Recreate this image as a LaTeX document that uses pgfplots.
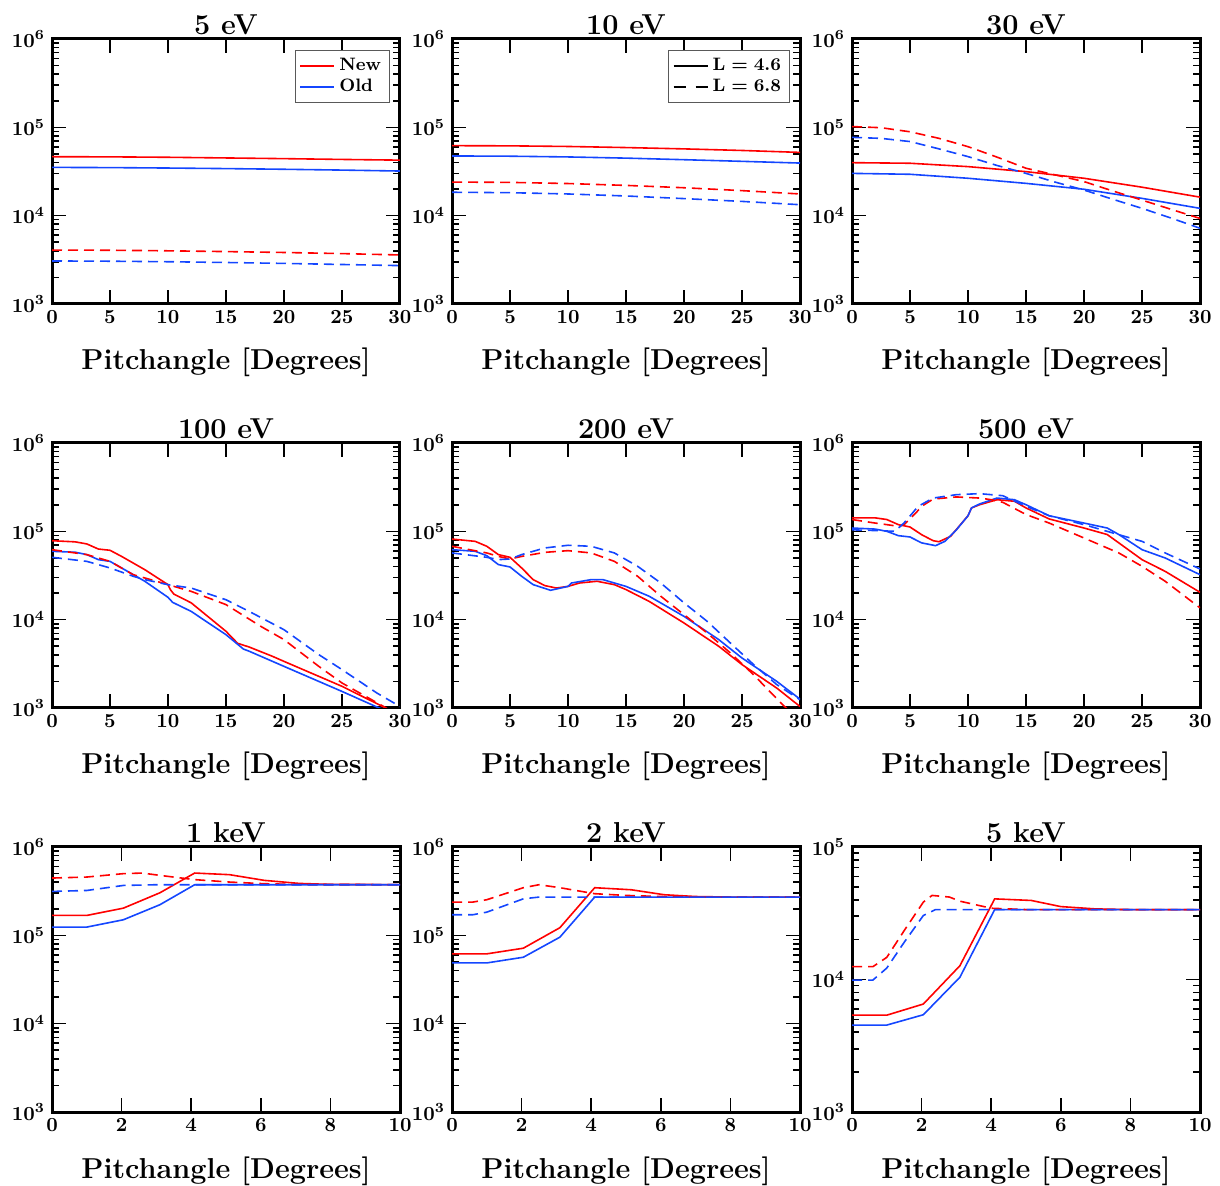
\documentclass[border=0pt]{standalone}
\usepackage{pgfplots}
\pgfplotsset{compat=1.18}
\definecolor{cR}{RGB}{255,0,0}
\definecolor{cB}{RGB}{20,70,255}
\pgfplotsset{
  every axis/.append style={
    scale only axis, width=174pt, height=132.5pt,
    ymode=log, ymin=1e3, ymax=1e6, ytick={1e3,1e4,1e5,1e6},
    xmin=0, xmax=30, xtick={0,5,...,30},
    tick align=inside, major tick length=7pt, minor tick length=3.5pt,
    tick style={black, line width=0.8pt},
    axis line style={line width=1.5pt},
    tick label style={font=\normalsize\boldmath},
    xlabel={Pitchangle [Degrees]},
    xlabel style={font=\Large\bfseries, at={(axis description cs:0.5,0)}, anchor=base, yshift=-33pt},
    title style={font=\Large\bfseries, at={(axis description cs:0.5,1)}, anchor=base, yshift=-4pt},
    legend style={at={(0.97,0.96)}, anchor=north east, draw=black!65, line width=0.5pt,
      font=\small\bfseries\boldmath, cells={anchor=west}, inner sep=2pt, row sep=-1pt},
  },
  sR/.style={cR, line width=0.8pt, forget plot},
  sB/.style={cB, line width=0.8pt, forget plot},
  dR/.style={cR, line width=0.8pt, dash pattern=on 5pt off 3pt, forget plot},
  dB/.style={cB, line width=0.8pt, dash pattern=on 5pt off 3pt, forget plot},
}
\begin{document}
\begin{tikzpicture}
\useasboundingbox (0pt,0pt) rectangle (610pt,-593pt);
% ---------- 5 eV
\begin{axis}[at={(26pt,-152pt)}, anchor=south west, title={5 eV}]
\addplot[cR, line width=0.8pt] coordinates {(0,46500)(5,46300)(10,45800)(15,45000)(20,44200)(25,43300)(30,42500)};
\addlegendentry{New}
\addplot[cB, line width=0.8pt] coordinates {(0,35200)(5,35000)(10,34600)(15,34100)(20,33500)(25,32800)(30,32000)};
\addlegendentry{Old}
\addplot[dR] coordinates {(0,4080)(5,4060)(10,4000)(15,3920)(20,3830)(25,3720)(30,3590)};
\addplot[dB] coordinates {(0,3070)(5,3050)(10,3010)(15,2950)(20,2880)(25,2800)(30,2720)};
\end{axis}
% ---------- 10 eV
\begin{axis}[at={(226pt,-152pt)}, anchor=south west, title={10 eV}]
\addplot[black, line width=0.8pt] coordinates {(-10,2000)(-9,2000)};
\addlegendentry{$\mathbf{L = 4.6}$}
\addplot[black, line width=0.8pt, dash pattern=on 6pt off 5pt] coordinates {(-10,2000)(-9,2000)};
\addlegendentry{$\mathbf{L = 6.8}$}
\addplot[sR] coordinates {(0,62000)(5,61700)(10,60700)(15,59000)(20,57000)(25,54700)(30,52000)};
\addplot[sB] coordinates {(0,47400)(5,47100)(10,46200)(15,44800)(20,43000)(25,41200)(30,39400)};
\addplot[dR] coordinates {(0,24000)(5,23800)(10,23100)(15,22000)(20,20700)(25,19200)(30,17600)};
\addplot[dB] coordinates {(0,18400)(5,18200)(10,17600)(15,16700)(20,15600)(25,14500)(30,13300)};
\end{axis}
% ---------- 30 eV
\begin{axis}[at={(426pt,-152pt)}, anchor=south west, title={30 eV}]
\addplot[sR] coordinates {(0,39800)(5,39200)(10,35900)(15,31500)(20,26500)(25,21000)(30,16200)};
\addplot[sB] coordinates {(0,30100)(5,29400)(10,26500)(15,23200)(20,19900)(25,15700)(30,12100)};
\addplot[dR] coordinates {(0,102000)(2.5,99000)(5,89000)(7.5,75000)(10,60400)(12.5,46000)(15,34400)(17.5,29000)(20,24300)(22.5,19000)(25,15000)(27.5,11800)(30,9300)};
\addplot[dB] coordinates {(0,77000)(2.5,75000)(5,69000)(7.5,57000)(10,46600)(12.5,37000)(15,30100)(17.5,24000)(20,19500)(22.5,15300)(25,12100)(27.5,9400)(30,7200)};
\end{axis}
% ---------- 100 eV
\begin{axis}[at={(26pt,-354pt)}, anchor=south west, title={100 eV}]
\addplot[sR] coordinates {(0,78300)(2,76000)(3,72000)(4,63000)(5,61000)(6,52000)(8,36800)(10,24900)(10.2,21900)(10.5,19500)(12,15500)(15,7380)(16,5400)(17,4900)(19,3850)(20,3370)(25,1760)(28.5,1040)(29,960)};
\addplot[sB] coordinates {(0,59400)(2,58000)(3,54500)(4,47800)(5,45700)(6,38500)(8,27200)(10,17900)(10.4,15700)(12,12400)(15,6760)(16.5,4650)(17,4390)(20,2960)(25,1540)(28.2,1000)(29,930)};
\addplot[dR] coordinates {(0,62000)(3,54500)(5,45700)(7,32300)(9,27200)(10,24900)(12,20900)(15,14800)(18,8400)(20,5940)(23,2960)(25,1920)(28.7,1020)(29,960)};
\addplot[dB] coordinates {(0,50800)(3,45700)(5,38500)(7,31000)(8,28400)(10,24900)(12,22800)(15,16800)(17,12400)(20,7700)(23,4020)(25,2720)(28,1480)(30,1040)};
\end{axis}
% ---------- 200 eV
\begin{axis}[at={(226pt,-354pt)}, anchor=south west, title={200 eV}]
\addplot[sR] coordinates {(0,81800)(2,77000)(3,67700)(4,54500)(5,50800)(6,38500)(7,28400)(8,24300)(9,22800)(10,23800)(11,26000)(12.5,27200)(14,24900)(15,21900)(17,16100)(20,9170)(23,4990)(25,3100)(28,1680)(30,1040)};
\addplot[sB] coordinates {(0,62000)(2,59400)(3,53000)(4,42000)(5,39500)(6,31000)(7,24900)(8.5,21500)(10,23800)(10.3,26000)(12,28400)(13,28400)(15,23800)(17,18400)(20,10900)(23,5940)(25,3680)(28,2000)(30,1260)};
\addplot[dR] coordinates {(0,67700)(3,56900)(4,52000)(5,48600)(6,52000)(8,57800)(10,60400)(12,56900)(14,45700)(16,31000)(18,18400)(20,11400)(22,7060)(24,4200)(26,2380)(28.5,1090)(29,950)};
\addplot[dB] coordinates {(0,56900)(3,50800)(4,47800)(5,48600)(6,54500)(8,64800)(10,69500)(12,67700)(14,56900)(16,40200)(18,26000)(20,15500)(22,9570)(24,5440)(26,3100)(28,1840)(30,1240)};
\end{axis}
% ---------- 500 eV
\begin{axis}[at={(426pt,-354pt)}, anchor=south west, title={500 eV}]
\addplot[sR] coordinates {(0,142000)(2,142000)(3,136000)(4,119000)(5,112000)(6,91600)(7,78300)(7.5,76300)(8.5,87800)(10,150000)(10.3,184000)(11,200000)(12.5,228000)(14,219000)(15,184000)(17,138000)(20,109000)(22,92000)(23,74000)(25,47800)(27,35200)(30,20400)};
\addplot[sB] coordinates {(0,109000)(2,106000)(3,100000)(4,89300)(5,86300)(6,74000)(7.2,68800)(8,77000)(9,104000)(10,150000)(10.3,184000)(11,204000)(12.5,238000)(14,228000)(15,200000)(17,150000)(20,124000)(22,109000)(23,92000)(25,62000)(27,49900)(30,32300)};
\addplot[dR] coordinates {(0,136000)(2,124000)(3,119000)(4,114000)(4.5,119000)(5.5,161000)(6,192000)(7,232000)(9,245000)(11,238000)(12,228000)(13,213000)(15,155000)(17,124000)(20,84000)(23,56900)(25,40200)(27,27200)(30,13600)};
\addplot[dB] coordinates {(0,104000)(2,102000)(3.7,100000)(4.5,125000)(5.2,160000)(5.7,192000)(7,238000)(9,260000)(11,267000)(13,253000)(15,192000)(17,150000)(20,119000)(23,91600)(25,77000)(27,56900)(30,37500)};
\end{axis}
% ---------- 1 keV
\begin{axis}[xmax=10, xtick={0,2,...,10}, at={(26pt,-556pt)}, anchor=south west, title={1 keV}]
\addplot[sR] coordinates {(0,168000)(1,168000)(2.05,203000)(3.1,303000)(4.1,507000)(5.1,486000)(6.1,419000)(7.1,387000)(8,377000)(10,375000)};
\addplot[sB] coordinates {(0,124000)(1,124000)(2.05,150000)(3.1,222000)(4.1,374000)(10,374000)};
\addplot[dR] coordinates {(0,445000)(1,457000)(2.05,499000)(2.6,507000)(3.1,477000)(4.1,427000)(5.1,401000)(6.1,384000)(7,377000)(10,375000)};
\addplot[dB] coordinates {(0,314000)(1,322000)(2.05,367000)(3,374000)(10,374000)};
\end{axis}
% ---------- 2 keV
\begin{axis}[xmax=10, xtick={0,2,...,10}, at={(226pt,-556pt)}, anchor=south west, title={2 keV}]
\addplot[sR] coordinates {(0,61700)(1,61700)(2.05,71500)(3.1,122000)(4.1,346000)(5.15,328000)(6.1,288000)(7,275000)(8,271000)(10,271000)};
\addplot[sB] coordinates {(0,48700)(1,48700)(2.05,56500)(3.1,95300)(4.1,271000)(10,271000)};
\addplot[dR] coordinates {(0,238000)(0.6,238000)(1,253000)(2.05,346000)(2.5,374000)(3.1,346000)(4.1,296000)(5,283000)(6,275000)(7,271000)(10,271000)};
\addplot[dB] coordinates {(0,171000)(0.6,171000)(1,183000)(2.05,259000)(2.5,271000)(10,271000)};
\end{axis}
% ---------- 5 keV
\begin{axis}[xmax=10, xtick={0,2,...,10}, ymax=1e5, ytick={1e3,1e4,1e5}, at={(426pt,-556pt)}, anchor=south west, title={5 keV}]
\addplot[sR] coordinates {(0,5380)(1,5380)(2.05,6530)(3.1,12700)(4.1,40600)(5.15,39500)(6,35500)(7,34100)(8,33700)(10,33700)};
\addplot[sB] coordinates {(0,4530)(1,4530)(2.05,5420)(3.1,10400)(4.1,33700)(10,33700)};
\addplot[dR] coordinates {(0,12500)(0.6,12500)(1,14700)(1.5,23400)(2.05,38400)(2.3,43100)(2.8,41900)(3.1,39000)(4,34500)(5,33700)(10,33700)};
\addplot[dB] coordinates {(0,9900)(0.6,9900)(1,12200)(1.5,19100)(2.05,30400)(2.4,33700)(10,33700)};
\end{axis}
\end{tikzpicture}
\end{document}
